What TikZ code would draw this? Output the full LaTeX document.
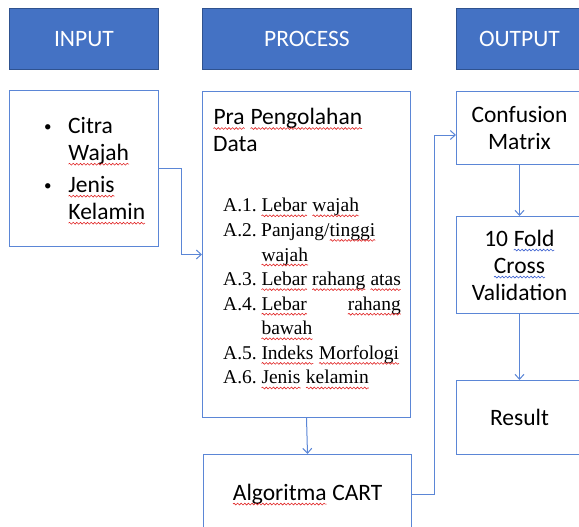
\documentclass[tikz,border=0pt]{standalone}
\usepackage{fontspec}
\setmainfont{Liberation Serif}
\setsansfont{Carlito}
\usetikzlibrary{arrows.meta,decorations.pathmorphing}

\definecolor{hdblue}{HTML}{4472C4}
\definecolor{hdline}{HTML}{2F528F}
\definecolor{boxline}{HTML}{5B86D6}
\definecolor{wavered}{HTML}{E02424}
\definecolor{waveblue}{HTML}{3A5FD0}

\newcommand\wavymark[2]{\tikz[baseline=(w.base)]{\node[inner sep=0pt, outer sep=0pt, text width={}, minimum width=0pt, minimum height=0pt, draw=none, fill=none] (w) {#2};
  \draw[#1, line width=0.6pt, decorate, decoration={snake, amplitude=0.9pt, segment length=3.6pt}] ([yshift=-4pt]w.base west) -- ([yshift=-4pt]w.base east);}}
\newcommand\redwave[1]{\wavymark{wavered}{#1}}
\newcommand\bluewave[1]{\wavymark{waveblue}{#1}}
\newcommand\boxfont{\sffamily\fontsize{23.5}{27}\selectfont}
\newcommand\listfont{\rmfamily\fontsize{19.5}{24.6}\selectfont}
\newcommand\bitem[1]{\par\hangindent=24pt\hangafter=1\noindent\makebox[24pt][l]{\raisebox{1.5pt}{\fontsize{15}{15}\selectfont\textbullet}}#1\par}
\newcommand\aitem[2]{\par\hangindent=38pt\hangafter=1\noindent\makebox[38pt][l]{#1}#2\par}

\tikzset{
  head/.style={anchor=north west, fill=hdblue, draw=hdline, line width=0.8pt, text=white,
    font=\boxfont, minimum height=61pt, inner sep=0pt},
  stage/.style={anchor=north west, draw=boxline, line width=1pt, font=\boxfont,
    align=center, inner sep=0pt},
  link/.style={draw=boxline, line width=1pt, -{Straight Barb[length=5pt,width=9pt]}}
}

\begin{document}
\begin{tikzpicture}[x=1pt,y=-1pt]
  \useasboundingbox (0,0) rectangle (579,527);
  \clip (0,0) rectangle (579,527);
  % Headers
  \node[head, minimum width=149pt] (inhead) at (9,8) {INPUT};
  \node[head, minimum width=209pt] (prhead) at (202,8) {PROCESS};
  \node[head, minimum width=126pt] (outhead) at (456,8) {OUTPUT};
  % Input
  \node[stage, minimum width=149pt, minimum height=156pt] (inbox) at (9,90) {};
  \node[anchor=north west, text width=100pt, align=left, inner sep=0pt, font=\boxfont] (inlist) at (44,101)
    {\setlength\parskip{5pt}%
     \bitem{Citra\newline\redwave{Wajah}}%
     \bitem{\redwave{Jenis}\newline\redwave{Kelamin}}};
  % Process
  \node[stage, minimum width=208pt, minimum height=326pt] (prbox) at (202,91) {};
  \node[anchor=north west, align=left, inner sep=0pt, font=\boxfont] (prtitle) at (213,108)
    {\redwave{Pra} \redwave{Pengolahan}\\Data};
  \node[anchor=north west, text width=178pt, align=justify, inner sep=0pt, font=\listfont] (prlist) at (223,187)
    {\aitem{A.1.}{\redwave{Lebar} \redwave{wajah}}%
     \aitem{A.2.}{Panjang/\redwave{tinggi}\newline\redwave{wajah}}%
     \aitem{A.3.}{\redwave{Lebar} \redwave{rahang} \redwave{atas}}%
     \aitem{A.4.}{\redwave{Lebar} \redwave{rahang}\linebreak\redwave{bawah}}%
     \aitem{A.5.}{\redwave{Indeks} \redwave{Morfologi}}%
     \aitem{A.6.}{\redwave{Jenis} \redwave{kelamin}}};
  \node[stage, minimum width=208pt, minimum height=80pt] (cart) at (203,454) {\redwave{Algoritma} CART};
  % Output
  \node[stage, minimum width=126pt, minimum height=73pt] (confmat) at (456,91) {Confusion\\Matrix};
  \node[stage, minimum width=126pt, minimum height=97pt] (crossval) at (456,216)
    {10 \bluewave{Fold}\\\bluewave{Cross}\\Validation};
  \node[stage, minimum width=126pt, minimum height=74pt] (result) at (456,380) {Result};
  % Connectors
  \draw[link] (inbox.east) -- ++(22,0) |- (prbox.west);
  \draw[link] (prbox.south) -- (cart.north);
  \draw[link] (cart.east) -- ++(22,0) |- ([yshift=-7pt]confmat.west);
  \draw[link] (confmat.south) -- (crossval.north);
  \draw[link] (crossval.south) -- (result.north);
\end{tikzpicture}
\end{document}
